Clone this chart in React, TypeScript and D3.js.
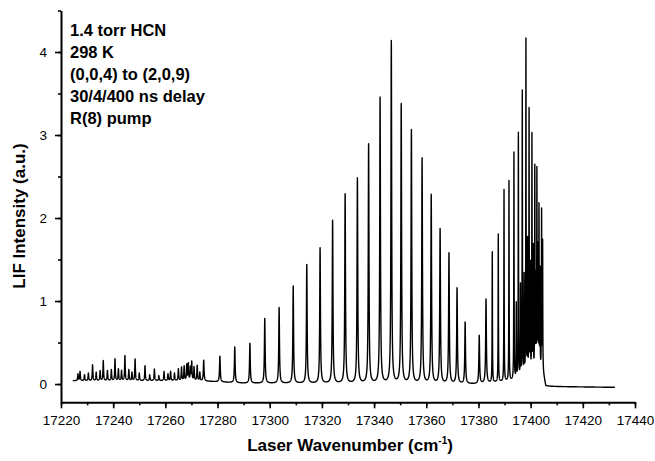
import React, { useEffect, useRef } from 'react';
import * as d3 from 'd3';

// weak lines in the noisy low-frequency region
const noiseWn = [17226.5, 17227.3, 17229, 17230.5, 17232.1, 17233.5, 17235, 17236.2, 17237.8, 17239.3, 17240.7, 17242, 17243.2, 17244.5, 17246, 17247.2, 17248.4, 17250, 17252.2, 17254, 17255.8, 17257.5, 17259.5, 17261, 17262, 17263.5, 17265, 17266.2, 17267.2, 17268.2, 17268.8, 17269.6, 17270.1, 17271, 17272.2, 17273.2];
const noiseInt = [0.08, 0.11, 0.07, 0.09, 0.19, 0.1, 0.12, 0.24, 0.12, 0.13, 0.26, 0.14, 0.12, 0.3, 0.13, 0.1, 0.26, 0.09, 0.18, 0.07, 0.14, 0.06, 0.11, 0.08, 0.11, 0.09, 0.14, 0.16, 0.17, 0.19, 0.2, 0.15, 0.22, 0.16, 0.18, 0.1];

// main R-branch progression
const branchWn = [17274.7, 17280.9, 17286.6, 17292.4, 17298.1, 17303.6, 17309.0, 17314.2, 17319.3, 17324.1, 17328.9, 17333.6, 17337.9, 17342.3, 17346.6, 17350.4, 17354.3, 17358.4, 17361.9, 17365.3, 17368.7, 17371.8, 17374.9, 17380.3, 17382.9, 17385.3, 17387.6, 17389.8, 17391.7, 17393.6, 17395.3, 17396.8, 17398.2, 17399.4, 17400.5, 17401.6, 17402.4, 17403.2, 17404.2];
const branchInt = [0.25, 0.31, 0.43, 0.48, 0.78, 0.91, 1.17, 1.43, 1.63, 1.96, 2.28, 2.47, 2.88, 3.44, 4.12, 3.36, 3.05, 2.71, 2.27, 1.86, 1.57, 1.15, 0.74, 0.58, 1.01, 1.57, 1.78, 2.31, 2.41, 2.74, 2.96, 3.45, 4.06, 3.2, 2.89, 2.48, 2.42, 1.98, 1.94];

// extra lines crowding the band head
const headWn = [17394.5, 17396.1, 17397.5, 17398.8, 17399.9, 17401.0, 17402.0, 17402.8, 17403.6, 17404.6];
const headInt = [0.9, 1.1, 1.2, 1.6, 1.3, 1.5, 1.1, 1.45, 1.2, 1.55];

// baseline level
const baseWn = [17224.5, 17272, 17290, 17380, 17392, 17400, 17404.8, 17405.8, 17432.3];
const baseInt = [0.04, 0.04, 0.01, 0.0, 0.03, 0.06, 0.12, -0.03, -0.04];

const xTicks = [17220, 17240, 17260, 17280, 17300, 17320, 17340, 17360, 17380, 17400, 17420, 17440];
const yTicks = [0, 1, 2, 3, 4];

const notes = ['1.4 torr HCN', '298 K', '(0,0,4) to (2,0,9)', '30/4/400 ns delay', 'R(8) pump'];

const W = 655, H = 461;

export default function App() {
  const ref = useRef<SVGSVGElement>(null);

  useEffect(() => {
    const svg = d3.select(ref.current);
    svg.selectAll('*').remove();

    const x = d3.scaleLinear().domain([17220, 17440]).range([61, 635]);
    const y = d3.scaleLinear().domain([-0.22, 4.5]).range([402.3, 10.5]);

    const lines = [
      ...noiseWn.map((w, i) => ({ w, h: noiseInt[i], g: 0.13 })),
      ...branchWn.map((w, i) => ({ w, h: branchInt[i], g: w < 17385 ? 0.16 : 0.07 })),
      ...headWn.map((w, i) => ({ w, h: headInt[i], g: 0.06 })),
    ];
    const base = d3.scaleLinear().domain(baseWn).range(baseInt).clamp(true);

    const xs = d3.range(baseWn[0], baseWn[baseWn.length - 1], 0.02)
      .concat(lines.map(l => l.w))
      .sort((a, b) => a - b);
    const trace = xs.map(v => {
      let s = base(v);
      for (const l of lines) {
        const d = v - l.w;
        s += l.h * l.g * l.g / (d * d + l.g * l.g);
      }
      return [v, s] as [number, number];
    });

    const g = svg.append('g');

    g.append('path')
      .datum(trace)
      .attr('d', d3.line<[number, number]>().x(d => x(d[0])).y(d => y(d[1])))
      .attr('fill', 'none')
      .attr('stroke', '#000')
      .attr('stroke-width', 1.4)
      .attr('stroke-linejoin', 'round');

    // bottom axis
    const xMinor = d3.range(17220, 17441, 10);
    g.append('g')
      .attr('transform', `translate(0,${y(-0.22)})`)
      .call(d3.axisBottom(x).tickValues(xMinor).tickSize(3).tickFormat(() => ''))
      .call(a => a.select('.domain').remove())
      .selectAll('line').attr('stroke-width', 1.6);
    const xa = g.append('g')
      .attr('transform', `translate(0,${y(-0.22)})`)
      .call(d3.axisBottom(x).tickValues(xTicks).tickSize(6).tickSizeOuter(0).tickPadding(7).tickFormat(d3.format('d')));
    xa.select('.domain').attr('stroke-width', 2);
    xa.selectAll('line').attr('stroke-width', 1.6);
    xa.selectAll('text').attr('font-size', 13.5).attr('font-family', 'Liberation Sans, Arial, sans-serif');

    // left axis
    const yMinor = d3.range(0, 4.51, 0.5);
    g.append('g')
      .attr('transform', `translate(${x(17220)},0)`)
      .call(d3.axisLeft(y).tickValues(yMinor).tickSize(3).tickFormat(() => ''))
      .call(a => a.select('.domain').remove())
      .selectAll('line').attr('stroke-width', 1.6);
    const ya = g.append('g')
      .attr('transform', `translate(${x(17220)},0)`)
      .call(d3.axisLeft(y).tickValues(yTicks).tickSize(6).tickSizeOuter(0).tickPadding(8).tickFormat(d3.format('d')));
    ya.select('.domain').attr('stroke-width', 2);
    ya.selectAll('line').attr('stroke-width', 1.6);
    ya.selectAll('text').attr('font-size', 13.5).attr('font-family', 'Liberation Sans, Arial, sans-serif');

    // axis titles
    const xt = g.append('text')
      .attr('x', 350).attr('y', 451)
      .attr('text-anchor', 'middle')
      .attr('font-family', 'Liberation Sans, Arial, sans-serif')
      .attr('font-weight', 'bold')
      .attr('font-size', 17);
    xt.append('tspan').text('Laser Wavenumber (cm');
    xt.append('tspan').attr('font-size', 10).attr('dy', -7).text('-1');
    xt.append('tspan').attr('dy', 7).text(')');

    g.append('text')
      .attr('transform', 'translate(25,216) rotate(-90)')
      .attr('text-anchor', 'middle')
      .attr('font-family', 'Liberation Sans, Arial, sans-serif')
      .attr('font-weight', 'bold')
      .attr('font-size', 17)
      .text('LIF Intensity (a.u.)');

    // annotation
    g.selectAll('.note').data(notes).join('text')
      .attr('class', 'note')
      .attr('x', 70)
      .attr('y', (d, i) => 36 + i * 22)
      .attr('font-family', 'Liberation Sans, Arial, sans-serif')
      .attr('font-weight', 'bold')
      .attr('font-size', 16.5)
      .text(d => d);
  }, []);

  return (
    <div style={{ position: 'absolute', left: 0, top: 0 }}>
      <svg ref={ref} width={W} height={H} style={{ display: 'block', background: '#fff' }} />
    </div>
  );
}
